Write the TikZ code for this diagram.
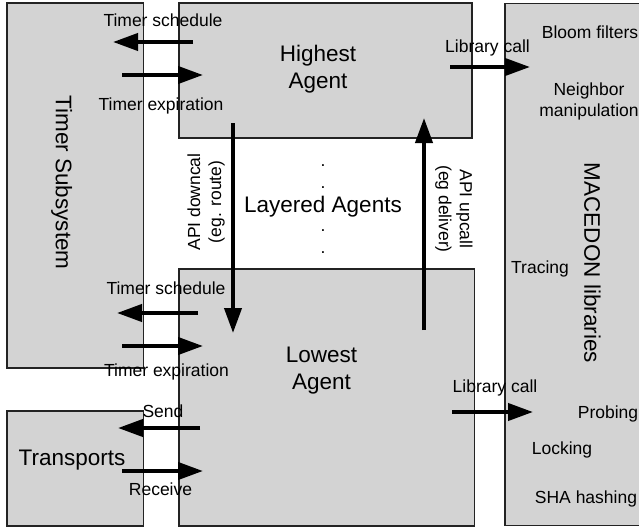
\documentclass[tikz,border=0pt]{standalone}
\usepackage{fontspec}
\setmainfont{Liberation Sans}
\usepackage{tikz}
\usetikzlibrary{arrows.meta}

\definecolor{boxgray}{RGB}{211,211,211}
\definecolor{edgegray}{RGB}{35,35,35}

\tikzset{
  block/.style={rectangle,draw=edgegray,fill=boxgray,line width=1.2pt,inner sep=0pt},
  flow/.style={line width=4pt,-{Triangle[length=25pt,width=17pt]}},
  lbl/.style={inner sep=0pt,font=\fontsize{17.5}{21}\selectfont,text height=12.6pt,text depth=0pt},
  lbltwo/.style={inner sep=0pt,font=\fontsize{17.5}{21}\selectfont,align=center},
  title/.style={inner sep=0pt,font=\fontsize{22.5}{27}\selectfont,text height=16.2pt,text depth=0pt},
  titletwo/.style={inner sep=0pt,font=\fontsize{22.5}{27}\selectfont,align=center},
}

\begin{document}
\begin{tikzpicture}[x=1pt,y=-1pt]
\useasboundingbox (0,0) rectangle (639,527);
% boxes
\node at (75.25,185.5) [block,minimum width=136.5pt,minimum height=365pt] (TimerSys) {};
\node at (75.25,468.5) [block,minimum width=136.5pt,minimum height=115pt] (Trans) {};
\node at (325.5,70.5) [block,minimum width=293pt,minimum height=135pt] (High) {};
\node at (326.75,397.5) [block,minimum width=295.5pt,minimum height=257pt] (Low) {};
\node at (575,264.5) [block,minimum width=140pt,minimum height=522pt] (Lib) {};

% arrow ends
\coordinate (schedA) at (193,42);   \coordinate (schedB) at (113,42);
\coordinate (expA) at (122,75);     \coordinate (expB) at (203,75);
\coordinate (schedC) at (198,313);  \coordinate (schedD) at (117,313);
\coordinate (expC) at (122,346);    \coordinate (expD) at (203,346);
\coordinate (sendA) at (200,428);   \coordinate (sendB) at (118,428);
\coordinate (recvA) at (122,471);   \coordinate (recvB) at (203,471);
\coordinate (downA) at (233,123);   \coordinate (downB) at (233,333);
\coordinate (upA) at (424,330);     \coordinate (upB) at (424,118);
\coordinate (callA) at (450,67);    \coordinate (callB) at (530,67);
\coordinate (callC) at (452,412);   \coordinate (callD) at (533,412);

\draw[flow] (schedA) -- (schedB);
\draw[flow] (expA) -- (expB);
\draw[flow] (schedC) -- (schedD);
\draw[flow] (expC) -- (expD);
\draw[flow] (sendA) -- (sendB);
\draw[flow] (recvA) -- (recvB);
\draw[flow] (downA) -- (downB);
\draw[flow] (upA) -- (upB);
\draw[flow] (callA) -- (callB);
\draw[flow] (callC) -- (callD);

% box titles
\node at (64,182.5) [title,rotate=-90] (nameT) {Timer Subsystem};
\node at (72,457) [title] (nameTr) {Transports};
\node at (318,68.8) [titletwo] (nameH) {Highest\\Agent};
\node at (321.5,370.8) [titletwo] (nameL) {Lowest\\Agent};
\node at (323,204) [title] (nameLa) {Layered Agents};
\node at (592.5,263) [title,rotate=-90] (nameM) {MACEDON libraries};
\node at (323,165) [lbl,text height=2pt] (dot1) {.};
\node at (323,187) [lbl,text height=2pt] (dot2) {.};
\node at (323,230) [lbl,text height=2pt] (dot3) {.};
\node at (323,252) [lbl,text height=2pt] (dot4) {.};

% arrow labels
\node at (163,20) [lbl] (a1) {Timer schedule};
\node at (161,104) [lbl] (a2) {Timer expiration};
\node at (166,288) [lbl] (a3) {Timer schedule};
\node at (166.5,370) [lbl] (a4) {Timer expiration};
\node at (163,411) [lbl] (a5) {Send};
\node at (160.5,489.5) [lbl] (a6) {Receive};
\node at (206,202) [lbltwo,rotate=90] (a7) {API downcal\\(eg. route)};
\node at (454,209) [lbltwo,rotate=-90] (a8) {API upcall\\(eg deliver)};
\node at (487.5,46) [lbl] (a9) {Library call};
\node at (495,386) [lbl] (a10) {Library call};

% library items
\node at (590,32) [lbl] (l1) {Bloom filters};
\node at (589,101.5) [lbltwo] (l2) {Neighbor\\manipulation};
\node at (540,267.5) [lbl] (l3) {Tracing};
\node at (608,412) [lbl] (l4) {Probing};
\node at (562,448.5) [lbl] (l5) {Locking};
\node at (586,497.5) [lbl] (l6) {SHA hashing};
\end{tikzpicture}
\end{document}
